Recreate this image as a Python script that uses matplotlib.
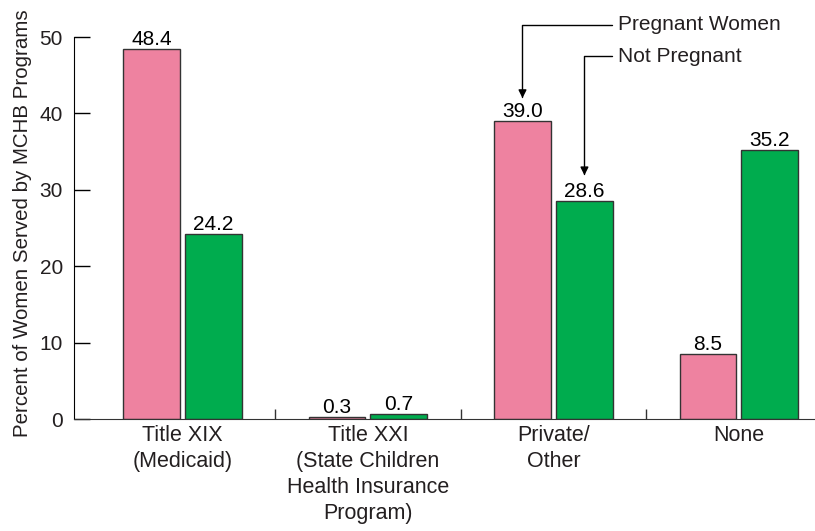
import numpy as np
import matplotlib.pyplot as plt

plt.rcParams['font.family'] = ['Liberation Sans', 'DejaVu Sans']

# data
groups = ['Title XIX\n(Medicaid)',
          'Title XXI\n(State Children\nHealth Insurance\nProgram)',
          'Private/\nOther',
          'None']
pregnant = [48.4, 0.3, 39.0, 8.5]
not_pregnant = [24.2, 0.7, 28.6, 35.2]
yticks = [0, 10, 20, 30, 40, 50]

pink = '#EE82A0'
green = '#00AC4E'
txt = '#231F20'

fig = plt.figure(figsize=(8.15, 5.31), dpi=100)
ax = fig.add_axes([0.0908, 0.2109, 0.9092, 0.7194])

x = np.arange(len(groups))
w = 0.307
off = 0.167

b1 = ax.bar(x - off, pregnant, w, color=pink, edgecolor='#333333', linewidth=1)
b2 = ax.bar(x + off, not_pregnant, w, color=green, edgecolor='#333333', linewidth=1)

for bars, vals in [(b1, pregnant), (b2, not_pregnant)]:
    for r, v in zip(bars, vals):
        ax.annotate(f'{v:.1f}', (r.get_x() + r.get_width() / 2, v),
                    xytext=(0, 0), textcoords='offset points',
                    ha='center', va='bottom', fontsize=15, color='black')

ax.set_xlim(-0.585, 3.41)
ax.set_ylim(0, 50)
ax.set_yticks(yticks)
ax.set_xticks(x)
ax.set_xticklabels(groups, fontsize=15.5, color=txt, linespacing=1.33)
ax.set_xticks([0.5, 1.5, 2.5], minor=True)
ax.tick_params(axis='x', which='major', length=0, pad=4)
ax.tick_params(axis='x', which='minor', direction='in', length=7, width=1, color='#333333')
ax.tick_params(axis='y', direction='in', length=11.5, width=1, pad=8,
               labelsize=15, labelcolor=txt, color='black')

for s in ['top', 'right']:
    ax.spines[s].set_visible(False)
ax.spines['left'].set_color('black')
ax.spines['bottom'].set_color('#333333')

ax.set_ylabel('Percent of Women Served by MCHB Programs', fontsize=14.8,
              color=txt)
ax.yaxis.set_label_coords(-0.057, 0.512)

# legend callouts
arrow = dict(arrowstyle='-|>', color='black', lw=1,
             connectionstyle='angle,angleA=0,angleB=90,rad=0',
             shrinkA=2, shrinkB=0, mutation_scale=12)
ax.annotate('Pregnant Women', xy=(2 - off, 42.0), xytext=(2.348, 51.6),
            ha='left', va='center', fontsize=15, color=txt,
            arrowprops=arrow, annotation_clip=False)
ax.annotate('Not Pregnant', xy=(2 + off, 31.9), xytext=(2.348, 47.5),
            ha='left', va='center', fontsize=15, color=txt,
            arrowprops=arrow, annotation_clip=False)

plt.savefig('out.png', dpi=100)
